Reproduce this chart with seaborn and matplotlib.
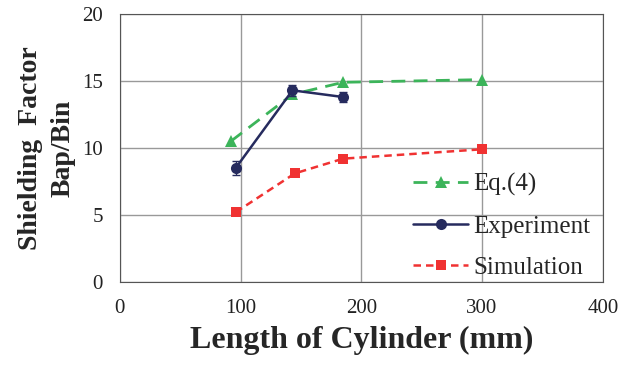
import numpy as np
import pandas as pd
import seaborn as sns
import matplotlib.pyplot as plt

# data
eq_x = [92, 143, 185, 300]
eq_y = [10.5, 14.0, 14.9, 15.1]
exp_x = [96, 143, 185]
exp_y = [8.5, 14.3, 13.8]
exp_err = [0.5, 0.4, 0.4]
sim_x = [96, 145, 185, 300]
sim_y = [5.2, 8.1, 9.2, 9.9]

sns.set_style("white")
plt.rcParams['font.family'] = ['Liberation Serif', 'DejaVu Serif']

fig = plt.figure(figsize=(6.44, 3.68), dpi=100)
ax = fig.add_axes([0.186, 0.234, 0.75, 0.728])

sns.lineplot(x=eq_x, y=eq_y, ax=ax, color="#3cb45a", linestyle=(0, (5, 3)), lw=2,
             marker="^", markersize=9, markeredgewidth=0, label="Eq.(4)")
sns.lineplot(x=exp_x, y=exp_y, ax=ax, color="#262b5e", lw=1.8,
             marker="o", markersize=8, markeredgewidth=0, label="Experiment")
ax.errorbar(exp_x, exp_y, yerr=exp_err, fmt="none", ecolor="#262b5e", capsize=3, lw=1)
sns.lineplot(x=sim_x, y=sim_y, ax=ax, color="#f03232", linestyle=(0, (3, 2)), lw=1.8,
             marker="s", markersize=7, markeredgewidth=0, label="Simulation")

ax.set_xlim(0, 400)
ax.set_ylim(0, 20)
ax.set_xticks([0, 100, 200, 300, 400])
ax.set_yticks([0, 5, 10, 15, 20])
ax.grid(True, color="#999999", lw=1)
for s in ax.spines.values():
    s.set_color("#555555")
ax.tick_params(labelsize=15, colors="#222222", length=0, pad=12)

ax.set_xlabel("Length of Cylinder (mm)", fontsize=23, fontweight="bold", labelpad=6)
ax.set_ylabel("Shielding  Factor\nBap/Bin", fontsize=20, fontweight="bold", labelpad=5,
              linespacing=1.4)

leg = ax.legend(loc="lower right", frameon=False, fontsize=18, handlelength=2.2,
                handletextpad=0.2, borderaxespad=0.1, labelspacing=0.75,
                bbox_to_anchor=(1.0, -0.035))

fig.savefig("out.png", dpi=100)
